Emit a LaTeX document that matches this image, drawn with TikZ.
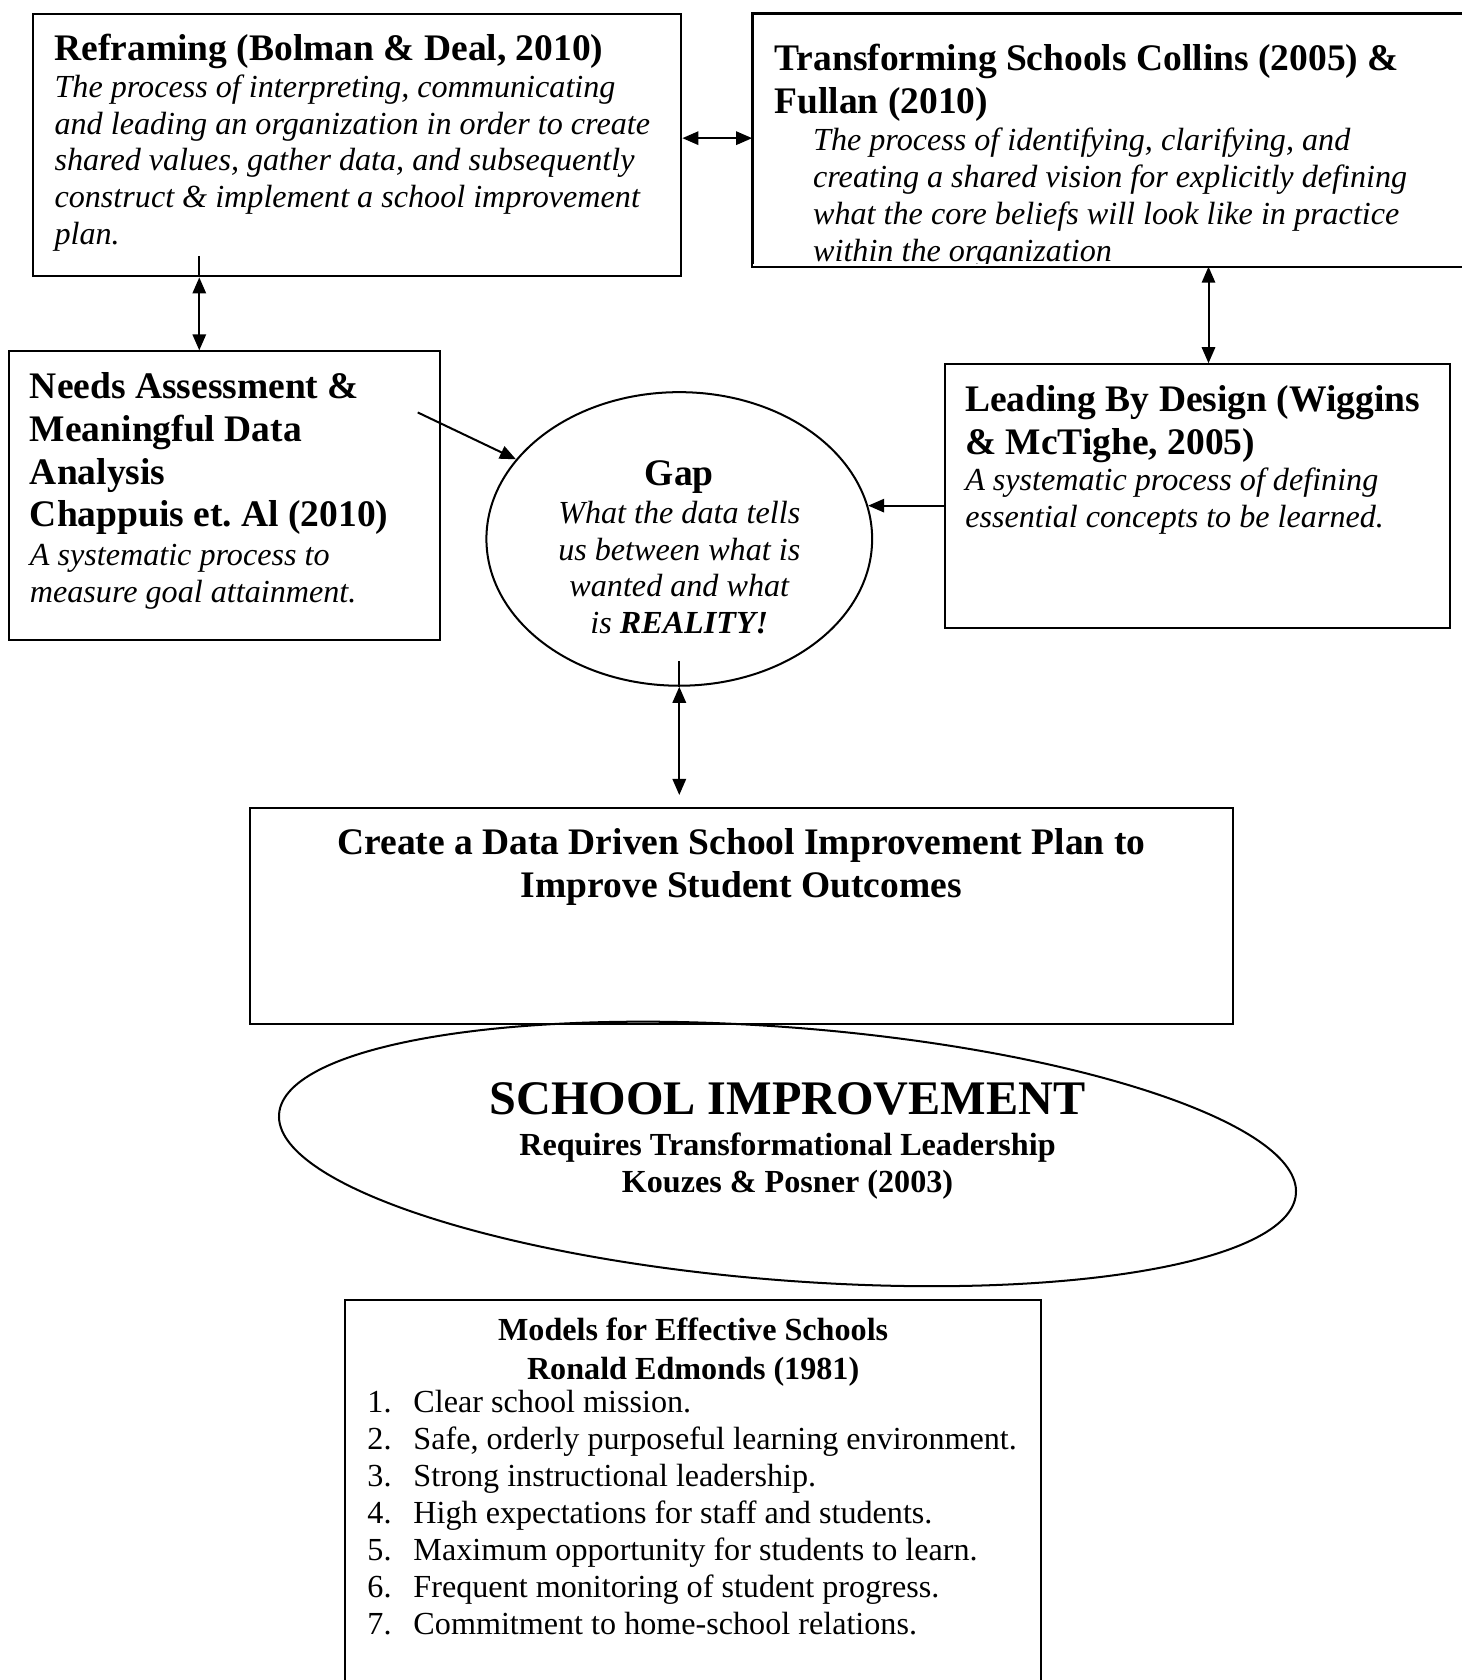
\documentclass[tikz,border=0pt]{standalone}
\usepackage{fontspec}
\setmainfont{Liberation Serif}
\usetikzlibrary{shapes.geometric, arrows.meta, positioning, calc}
\frenchspacing

% text styles
\newcommand{\ttl}{\fontsize{14}{16}\selectfont\bfseries}
\newcommand{\bdy}{\fontsize{12}{13.8}\selectfont\itshape}
% top aligned box text: width, height, top space, content
\newcommand{\boxtext}[4]{\parbox[t][#2][t]{#1}{\raggedright\leftskip=8pt\relax\vspace*{#3}#4}}

\begin{document}
\begin{tikzpicture}[
  x=0.4pt, y=-0.4pt,
  panel/.style={rectangle, draw=black, line width=0.75pt, anchor=north west, inner sep=0pt},
  oval/.style={ellipse, draw=black, line width=0.75pt, inner sep=0pt},
  link/.style={line width=0.75pt},
  arrow/.style={link, -{Triangle[length=6pt, width=5pt]}},
  twoway/.style={link, {Triangle[length=6pt, width=5pt]}-{Triangle[length=6pt, width=5pt]}}
]
\useasboundingbox (0,0) rectangle (1364,1568);

% Top row
\node[panel] (reframe) at (30,12) {\boxtext{242pt}{98pt}{7.4pt}{%
  {\ttl Reframing (Bolman \& Deal, 2010)\par}
  {\bdy The process of interpreting, communicating\\
  and leading an organization in order to create\\
  shared values, gather data, and subsequently\\
  construct \& implement a school improvement\\
  plan.\par}}};

\begin{scope}
\clip (702,12) rectangle (1380,246);
\node[panel] (transform) at (702,12) {\boxtext{271pt}{94pt}{11.4pt}{%
  {\ttl Transforming Schools Collins (2005) \&\\
  Fullan (2010)\par}
  {\bdy\leftskip=22.4pt
  The process of identifying, clarifying, and\\
  creating a shared vision for explicitly defining\\
  what the core beliefs will look like in practice\\
  within the organization\par}}};
\end{scope}
\draw[link] (transform.north west) rectangle (transform.south east);

% Middle row
\node[panel] (needs) at (7,327) {\boxtext{161.2pt}{107.6pt}{7.8pt}{%
  {\ttl Needs Assessment \&\\
  Meaningful Data\\
  Analysis\\
  Chappuis et. Al (2010)\par}
  {\bdy\vspace*{0.6pt}A systematic process to\\
  measure goal attainment.\par}}};

\node[panel] (leading) at (881,339) {\boxtext{188.4pt}{98.4pt}{7.8pt}{%
  {\ttl\leftskip=7.6pt Leading By Design (Wiggins\\
  \& McTighe, 2005)\par}
  {\bdy\leftskip=7.6pt A systematic process of defining\\
  essential concepts to be learned.\par}}};

\node[oval, minimum width=144pt, minimum height=109.6pt, align=center,
  font=\fontsize{12}{13.8}\selectfont\itshape] (gap) at (634,503)
  {\rule{0pt}{15.6pt}{\ttl\upshape Gap}\\[0.3pt]
  What the data tells\\
  us between what is\\
  wanted and what\\
  is \textbf{REALITY!}};

% Plan and goal
\node[panel] (create) at (232,753) {\boxtext{367.2pt}{80.8pt}{7.8pt}{%
  {\ttl\centering Create a Data Driven School Improvement Plan to\\
  Improve Student Outcomes\par}}};

\node[oval, rotate=-4.5, minimum width=380.8pt, minimum height=94.4pt] (schoolring) at (735,1077) {};
\node[anchor=north, align=center, inner sep=0pt,
  font=\fontsize{12}{13.8}\selectfont\bfseries] (school) at (735,1010)
  {{\fontsize{18}{20.7}\selectfont SCHOOL IMPROVEMENT}\\[1.4pt]
  Requires Transformational Leadership\\
  Kouzes \& Posner (2003)};

% Models list
\node[panel] (models) at (321,1212) {\boxtext{260pt}{163.2pt}{6.9pt}{%
  {\fontsize{12}{14.4}\selectfont\bfseries\centering
  Models for Effective Schools\\
  Ronald Edmonds (1981)\par}
  {\fontsize{12}{13.8}\selectfont\leftskip=8.4pt\vspace*{-1.4pt}
  \makebox[17.2pt][l]{1.}Clear school mission.\\
  \makebox[17.2pt][l]{2.}Safe, orderly purposeful learning environment.\\
  \makebox[17.2pt][l]{3.}Strong instructional leadership.\\
  \makebox[17.2pt][l]{4.}High expectations for staff and students.\\
  \makebox[17.2pt][l]{5.}Maximum opportunity for students to learn.\\
  \makebox[17.2pt][l]{6.}Frequent monitoring of student progress.\\
  \makebox[17.2pt][l]{7.}Commitment to home-school relations.\par}}};

% Connectors
\draw[twoway] ([yshift=2.6pt]reframe.east) -- ([yshift=2.6pt]reframe.east -| transform.west);
\draw[link] ([xshift=62.4pt,yshift=8pt]reframe.south west) -- ([xshift=62.4pt]reframe.south west);
\draw[twoway] ([xshift=62.4pt]reframe.south west) -- ([xshift=62.4pt]reframe.south west |- needs.north);
\draw[twoway] ([xshift=4.2pt]leading.north |- transform.south) -- ([xshift=4.2pt]leading.north);
\draw[arrow] ([xshift=-8.8pt,yshift=31pt]needs.east) -- (gap.154);
\draw[arrow] (gap.10 -| leading.west) -- (gap.10);
\draw[link] ([yshift=9.6pt]gap.south) -- (gap.south);
\draw[twoway, shorten >=4.4pt] (gap.south) -- (gap.south |- create.north);

\end{tikzpicture}
\end{document}
